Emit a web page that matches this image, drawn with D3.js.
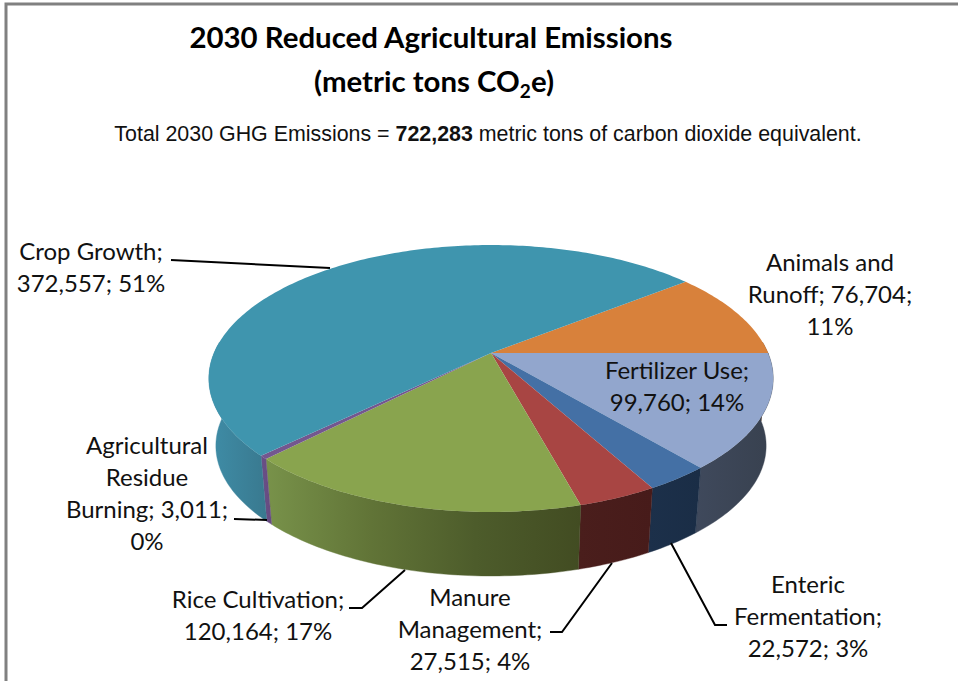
<!DOCTYPE html>
<html><head><meta charset="utf-8">
<script src="https://cdnjs.cloudflare.com/ajax/libs/d3/7.8.5/d3.min.js"></script>
<style>html,body{margin:0;padding:0;background:#fff}svg{display:block}</style>
</head><body><svg id="c" width="958" height="681"></svg>
<script>
const categories = ["Animals and Runoff","Fertilizer Use","Enteric Fermentation","Manure Management","Rice Cultivation","Agricultural Residue Burning","Crop Growth"];
const values = [76704,99760,22572,27515,120164,3011,372557];
const topColors = ["#D8813B","#92A6CD","#4470A5","#A84543","#89A44E","#73578F","#3F95AE"];
const sideColors = [["#8a5226","#8a5226"],["#3F495C","#38414F"],["#1C304A","#1A2D46"],["#4A1E1C","#471B1A"],["#78924A","#617437","#4D5C2B","#424C22"],["#6A4F87","#664B80"],["#3F8DA7","#39798F"]];
const labelLines = [["Animals and","Runoff; 76,704;","11%"],["Fertilizer Use;","99,760; 14%"],["Enteric","Fermentation;","22,572; 3%"],["Manure","Management;","27,515; 4%"],["Rice Cultivation;","120,164; 17%"],["Agricultural","Residue","Burning; 3,011;","0%"],["Crop Growth;","372,557; 51%"]];
const labelAnchors = [[830,271],[677,379],[808,593],[470,606],[258,608],[147,454],[91,260]];
const leaderPaths = [null,null,[[671,543],[715,625],[727,625]],[[612,563],[562,632],[550,632]],[[405,570],[362,608],[349,608]],[[267,520],[234,519]],[[330,268],[171,260]]];

const svg = d3.select("#c");
// frame
svg.append("path").attr("d","M6,681V4H958").attr("fill","none").attr("stroke","#808080").attr("stroke-width",3);

// Pie layout: slices run clockwise; the first one starts at the reference's first-slice angle
const startDeg = 51.77;
const toRad = d => d*Math.PI/180;
const pie = d3.pie().sort(null).startAngle(toRad(startDeg)).endAngle(toRad(startDeg+360));
const arcs = pie(values);

// perspective projection of the disc
const cx=491, cy=353, a=277, b=128.6, k=0.191, drop=68, shrink=0.975;
const projTop = t => { const u=Math.sin(t), v=-Math.cos(t), w=1-k*v; return [cx+a*u/w, cy+b*v/w]; };
const projBot = t => { const u=Math.sin(t), v=-Math.cos(t), w=1-k*v; return [cx+shrink*a*u/w, cy+drop+shrink*b*v/w]; };
const line = d3.line();
const sample = (t0,t1) => { const n=Math.max(2,Math.ceil((t1-t0)/toRad(1))); return d3.range(n+1).map(i=>t0+(t1-t0)*i/n); };

const defs = svg.append("defs");
// visible wall range
const frontA = toRad(85), frontB = toRad(275);
const wall = svg.append("g");
arcs.forEach((d,i)=>{
  [0,2*Math.PI].forEach(off=>{
    const t0=Math.max(d.startAngle-off,frontA), t1=Math.min(d.endAngle-off,frontB);
    if(t1<=t0) return;
    const ts=sample(t0,t1);
    const pts=ts.map(projTop).concat(ts.slice().reverse().map(projBot));
    const xs=pts.map(p=>p[0]);
    const id="g"+i+"_"+(off?1:0);
    const g=defs.append("linearGradient").attr("id",id).attr("gradientUnits","userSpaceOnUse")
      .attr("x1",d3.min(xs)).attr("x2",d3.max(xs)).attr("y1",0).attr("y2",0);
    sideColors[i].forEach((c,j,arr)=>g.append("stop").attr("offset",j/(arr.length-1)).attr("stop-color",c));
    wall.append("path").attr("d",line(pts)+"Z").attr("fill",`url(#${id})`).attr("stroke",`url(#${id})`).attr("stroke-width",0.4);
  });
});
// top faces
svg.append("g").selectAll("path").data(arcs).join("path")
  .attr("d",d=>line([[cx,cy]].concat(sample(d.startAngle,d.endAngle).map(projTop)))+"Z")
  .attr("fill",(d,i)=>topColors[i]);

// leaders
svg.append("g").selectAll("path").data(leaderPaths.filter(Boolean)).join("path")
  .attr("d",line).attr("fill","none").attr("stroke","#000").attr("stroke-width",2);

// labels
const lab = svg.append("g").attr("font-family","Lato, 'Open Sans', sans-serif").attr("font-size",24).attr("fill","#111").attr("text-anchor","middle");
labelLines.forEach((ls,i)=>{
  ls.forEach((s,j)=>lab.append("text").attr("x",labelAnchors[i][0]).attr("y",labelAnchors[i][1]+j*32).text(s));
});

// titles
const t = svg.append("g").attr("font-family","Lato, sans-serif").attr("font-weight",700).attr("font-size",29.4).attr("fill","#000").attr("text-anchor","middle");
t.append("text").attr("x",431).attr("y",48).text("2030 Reduced Agricultural Emissions");
const t2=t.append("text").attr("x",434).attr("y",92);
t2.append("tspan").text("(metric tons CO");
t2.append("tspan").attr("font-size",19).attr("dy",6).text("2");
t2.append("tspan").attr("dy",-6).text("e)");
const s=svg.append("text").attr("x",488).attr("y",141).attr("text-anchor","middle").attr("font-family","'Liberation Sans', Arial, sans-serif").attr("font-size",21.4).attr("fill","#111");
s.append("tspan").text("Total 2030 GHG Emissions = ");
s.append("tspan").attr("font-weight",700).text("722,283");
s.append("tspan").text(" metric tons of carbon dioxide equivalent.");
</script></body></html>
